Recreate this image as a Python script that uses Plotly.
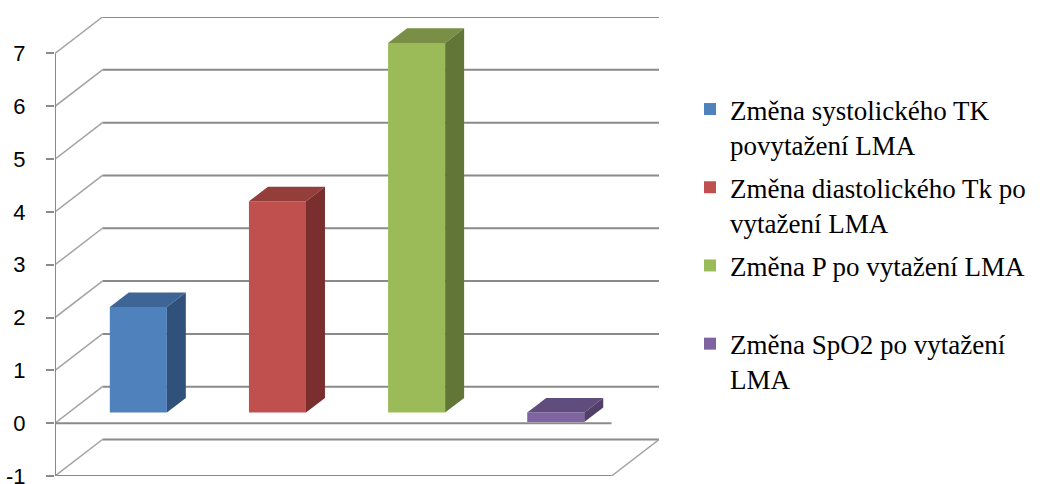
import plotly.graph_objects as go

# ---- data ----
series_names = [
    "Změna systolického TK<br>povytažení LMA",
    "Změna diastolického Tk po<br>vytažení LMA",
    "Změna P po vytažení LMA<br> ",
    "Změna SpO2 po vytažení<br>LMA",
]
values = [2, 4, 7, -0.18]
front_colors = ["#4F81BD", "#C0504D", "#9BBB59", "#8064A2"]
top_colors = ["#3D6696", "#943E3C", "#788F45", "#604C7D"]
side_colors = ["#30517A", "#7A2F2E", "#627737", "#52406B"]
tick_vals = [-1, 0, 1, 2, 3, 4, 5, 6, 7]

# ---- oblique projection parameters (axis units) ----
DX = 0.341   # depth shift in category units
DY = 0.691   # depth shift in value units
F_DEPTH = 0.29
B_DEPTH = 0.69
BAR_W = 0.41
XMIN, XMAX = -0.5, len(values) - 0.5
YMIN, YMAX = tick_vals[0], tick_vals[-1]

GRID = "#8A8A8A"
SLANT = "#A3A3A3"

shapes = []
# back wall gridlines + left wall slants
for v in tick_vals:
    shapes.append(dict(type="line", xref="x", yref="y", layer="below",
                       x0=XMIN + DX, y0=v + DY, x1=XMAX + DX, y1=v + DY,
                       line=dict(color=GRID, width=2)))
    shapes.append(dict(type="line", xref="x", yref="y", layer="below",
                       x0=XMIN, y0=v, x1=XMIN + DX, y1=v + DY,
                       line=dict(color=SLANT, width=1.5)))
# floor front edge and right edge
shapes.append(dict(type="line", xref="x", yref="y", layer="below",
                   x0=XMIN, y0=YMIN, x1=XMAX, y1=YMIN,
                   line=dict(color=GRID, width=2)))
shapes.append(dict(type="line", xref="x", yref="y", layer="below",
                   x0=XMAX, y0=YMIN, x1=XMAX + DX, y1=YMIN + DY,
                   line=dict(color=SLANT, width=1.5)))
# category axis line at 0 (front)
shapes.append(dict(type="line", xref="x", yref="y", layer="below",
                   x0=XMIN, y0=0, x1=XMAX, y1=0,
                   line=dict(color=GRID, width=2)))
# value axis line
shapes.append(dict(type="line", xref="x", yref="y", layer="below",
                   x0=XMIN, y0=YMIN, x1=XMIN, y1=YMAX,
                   line=dict(color=GRID, width=2)))

fig = go.Figure()

for i, (name, v) in enumerate(zip(series_names, values)):
    lo, hi = min(0, v), max(0, v)
    # front face
    fig.add_trace(go.Bar(
        x=[i + F_DEPTH * DX], y=[hi - lo], base=[lo + F_DEPTH * DY],
        width=BAR_W, name=name, marker=dict(color=front_colors[i], line=dict(width=0)),
        showlegend=True, legendgroup=f"g{i}"))

for i, v in enumerate(values):
    lo, hi = min(0, v), max(0, v)
    xl = i - BAR_W / 2
    xr = i + BAR_W / 2
    # top face
    fig.add_trace(go.Scatter(
        x=[xl + F_DEPTH * DX, xr + F_DEPTH * DX, xr + B_DEPTH * DX, xl + B_DEPTH * DX, xl + F_DEPTH * DX],
        y=[hi + F_DEPTH * DY, hi + F_DEPTH * DY, hi + B_DEPTH * DY, hi + B_DEPTH * DY, hi + F_DEPTH * DY],
        fill="toself", fillcolor=top_colors[i], mode="lines", line=dict(width=0, color=top_colors[i]),
        showlegend=False, hoverinfo="skip"))
    # side face
    fig.add_trace(go.Scatter(
        x=[xr + F_DEPTH * DX, xr + F_DEPTH * DX, xr + B_DEPTH * DX, xr + B_DEPTH * DX, xr + F_DEPTH * DX],
        y=[lo + F_DEPTH * DY, hi + F_DEPTH * DY, hi + B_DEPTH * DY, lo + B_DEPTH * DY, lo + F_DEPTH * DY],
        fill="toself", fillcolor=side_colors[i], mode="lines", line=dict(width=0, color=side_colors[i]),
        showlegend=False, hoverinfo="skip"))

fig.update_layout(
    width=1055, height=484,
    margin=dict(l=55, r=396, t=17, b=8, autoexpand=False),
    paper_bgcolor="white", plot_bgcolor="white",
    barmode="overlay",
    shapes=shapes,
    showlegend=True,
    legend=dict(
        xref="container", yref="container", x=690 / 1055, y=1 - 85 / 484,
        xanchor="left", yanchor="top",
        font=dict(family="Liberation Serif", size=27, color="black"),
        valign="top", tracegroupgap=5, bgcolor="rgba(0,0,0,0)",
        traceorder="grouped", maxheight=440,
    ),
    xaxis=dict(range=[XMIN, XMAX + DX], showgrid=False, zeroline=False,
               showticklabels=False, ticks="", showline=False, fixedrange=True,
               automargin=False),
    yaxis=dict(range=[YMIN, YMAX + DY], showgrid=False, zeroline=False,
               tickvals=tick_vals, ticktext=[str(t) for t in tick_vals],
               ticks="outside", ticklen=8, tickwidth=2, tickcolor=GRID,
               ticklabelstandoff=16, ticklabeloverflow="allow",
               tickfont=dict(family="Liberation Sans", size=22, color="black"),
               showline=False, fixedrange=True, automargin=False),
)

fig.write_html("out.html")
